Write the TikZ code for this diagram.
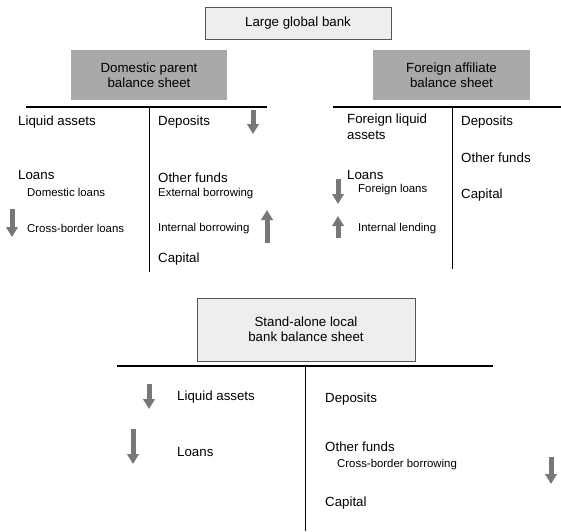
\documentclass[tikz,border=0pt]{standalone}
\usepackage{fontspec}
\setmainfont{Liberation Sans}
\usetikzlibrary{arrows.meta}
\definecolor{boxdark}{HTML}{A9A9A9}
\definecolor{boxlight}{HTML}{EEEEEE}
\definecolor{boxedge}{HTML}{555555}
\definecolor{arrowgray}{HTML}{777777}
\tikzset{
  big/.style={font=\fontsize{13.3}{16}\selectfont, inner sep=0pt, anchor=west},
  small/.style={font=\fontsize{11.4}{13}\selectfont, inner sep=0pt, anchor=west},
  darkbox/.style={fill=boxdark, draw=none, align=center, font=\fontsize{13.3}{15}\selectfont, inner sep=0pt},
  lightbox/.style={fill=boxlight, draw=boxedge, line width=0.8pt, align=center, font=\fontsize{13.3}{15}\selectfont, inner sep=0pt},
  rule/.style={line width=1.2pt, black},
  vrule/.style={line width=1pt, black},
  trend/.style={line width=5pt, draw=arrowgray, -{Triangle[width=11.5pt,length=10pt]}}
}
\begin{document}
\begin{tikzpicture}[x=1pt,y=-1pt]
\useasboundingbox (0,0) rectangle (561,531);

% top box
\node[lightbox, minimum width=186pt, minimum height=32pt] (lgb) at (298,23) {Large global bank};

% Domestic parent
\node[darkbox, minimum width=156pt, minimum height=50pt] (dp) at (149,75) {Domestic parent\\balance sheet};
\coordinate (dpL) at (26,107);
\coordinate (dpR) at (267,107);
\coordinate (dpT) at (149,107);
\coordinate (dpB) at (149,272);
\draw[rule] (dpL) -- (dpR);
\draw[vrule] (dpT) -- (dpB);
\node[big] (dla) at (18,122) {Liquid assets};
\node[big] (dloans) at (18,175) {Loans};
\node[small] (ddl) at (27,192) {Domestic loans};
\node[small] (dcbl) at (27,228) {Cross-border loans};
\node[big] (ddep) at (158,122) {Deposits};
\node[big] (dof) at (158,178) {Other funds};
\node[small] (deb) at (158,194) {External borrowing};
\node[small] (dib) at (158,229) {Internal borrowing};
\node[big] (dcap) at (158,259) {Capital};
\coordinate (a1s) at (253,110); \coordinate (a1e) at (253,134);
\draw[trend] (a1s) -- (a1e);
\coordinate (a2s) at (12,209); \coordinate (a2e) at (12,237);
\draw[trend] (a2s) -- (a2e);
\coordinate (a3s) at (267,243); \coordinate (a3e) at (267,210);
\draw[trend] (a3s) -- (a3e);

% Foreign affiliate
\node[darkbox, minimum width=157pt, minimum height=50pt] (fa) at (451.5,75) {Foreign affiliate\\balance sheet};
\coordinate (faL) at (333,107);
\coordinate (faR) at (561,107);
\coordinate (faT) at (452,107);
\coordinate (faB) at (452,269);
\draw[rule] (faL) -- (faR);
\draw[vrule] (faT) -- (faB);
\node[big, anchor=north west, align=left] (fla) at (347,114) {Foreign liquid\\assets};
\node[big] (floans) at (347,175) {Loans};
\node[small] (ffl) at (358,190) {Foreign loans};
\node[small] (fil) at (358,229) {Internal lending};
\node[big] (fdep) at (461,122) {Deposits};
\node[big] (fof) at (461,158) {Other funds};
\node[big] (fcap) at (461,195) {Capital};
\coordinate (a4s) at (338,179); \coordinate (a4e) at (338,204);
\draw[trend] (a4s) -- (a4e);
\coordinate (a5s) at (338,238); \coordinate (a5e) at (338,216);
\draw[trend] (a5s) -- (a5e);

% Stand-alone local bank
\node[lightbox, minimum width=218pt, minimum height=63pt] (sa) at (306,329.5) {Stand-alone local\\bank balance sheet};
\coordinate (saL) at (117,366);
\coordinate (saR) at (493,366);
\coordinate (saT) at (305,366);
\coordinate (saB) at (305,531);
\draw[rule] (saL) -- (saR);
\draw[vrule] (saT) -- (saB);
\node[big] (sla) at (177,397) {Liquid assets};
\node[big] (sloans) at (177,452) {Loans};
\node[big] (sdep) at (325,399) {Deposits};
\node[big] (sof) at (325,447) {Other funds};
\node[small] (scbb) at (337,465) {Cross-border borrowing};
\node[big] (scap) at (325,503) {Capital};
\coordinate (a6s) at (149,384); \coordinate (a6e) at (149,409);
\draw[trend] (a6s) -- (a6e);
\coordinate (a7s) at (133,429); \coordinate (a7e) at (133,464);
\draw[trend] (a7s) -- (a7e);
\coordinate (a8s) at (551,457); \coordinate (a8e) at (551,484);
\draw[trend] (a8s) -- (a8e);
\end{tikzpicture}
\end{document}
